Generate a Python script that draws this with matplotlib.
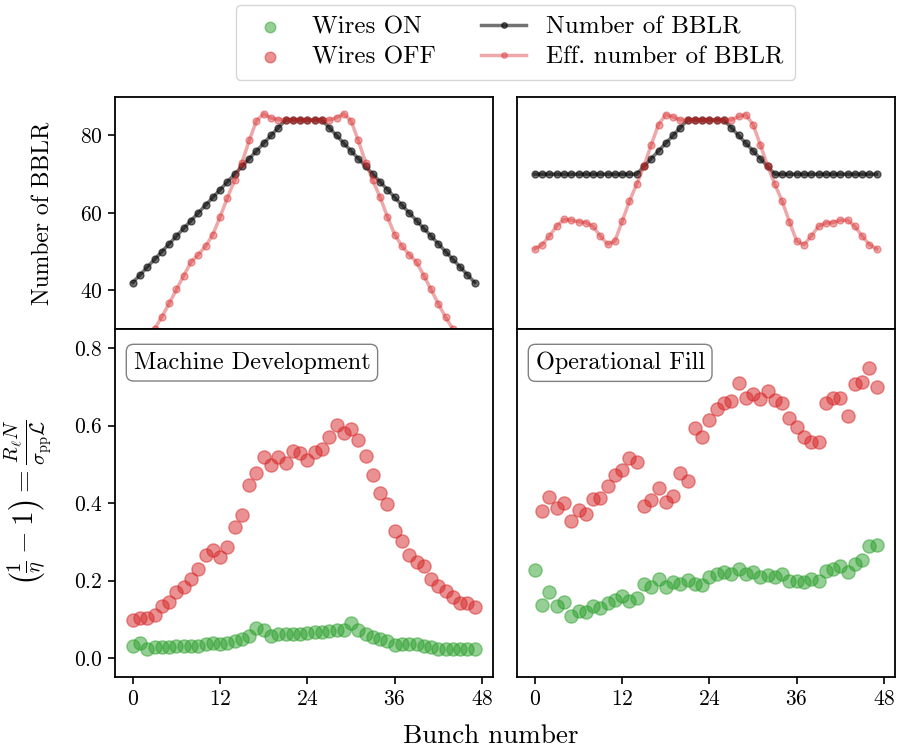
import numpy as np
import matplotlib
matplotlib.use("Agg")
import matplotlib.pyplot as plt

plt.rcParams["font.family"] = "serif"
plt.rcParams["font.serif"] = ["cmr10", "DejaVu Serif"]
plt.rcParams["mathtext.fontset"] = "cm"
plt.rcParams["axes.formatter.use_mathtext"] = True
plt.rcParams["axes.unicode_minus"] = False

bunches = np.arange(48)

# number of BBLR per bunch
n_bblr_md = [42, 44, 46, 48, 50, 52, 54, 56, 58, 60, 62, 64, 66, 68, 70, 72,
             74, 76, 78, 80, 82, 84, 84, 84, 84, 84, 84, 82, 80, 78, 76, 74,
             72, 70, 68, 66, 64, 62, 60, 58, 56, 54, 52, 50, 48, 46, 44, 42]
n_bblr_of = [70, 70, 70, 70, 70, 70, 70, 70, 70, 70, 70, 70, 70, 70, 70, 72,
             74, 76, 78, 80, 82, 84, 84, 84, 84, 84, 84, 82, 80, 78, 76, 74,
             72, 70, 70, 70, 70, 70, 70, 70, 70, 70, 70, 70, 70, 70, 70, 70]

# effective number of BBLR
eff_bblr_md = [20.0, 23.5, 27.0, 30.0, 33.2, 36.6, 40.2, 43.8, 47.3, 49.2, 51.4, 54.4,
               59.0, 63.9, 68.5, 73.0, 78.7, 83.8, 85.6, 84.5, 84.1, 84.0, 84.0, 84.0,
               84.0, 84.0, 84.0, 84.0, 84.6, 85.6, 83.8, 78.7, 73.0, 68.4, 64.0, 59.0,
               54.4, 51.4, 49.2, 47.3, 43.8, 40.2, 36.5, 33.0, 30.0, 27.0, 23.5, 20.0]
eff_bblr_of = [50.7, 51.8, 54.0, 56.6, 58.3, 58.1, 57.7, 57.5, 56.5, 54.0, 51.9, 52.7,
               57.8, 63.0, 67.4, 72.1, 77.6, 82.8, 85.4, 84.8, 84.0, 84.0, 84.0, 84.0,
               84.0, 84.0, 84.0, 84.0, 84.9, 85.4, 82.8, 77.6, 72.1, 67.4, 63.0, 57.7,
               52.7, 51.8, 54.0, 56.5, 57.4, 57.5, 58.1, 58.1, 56.5, 54.0, 51.8, 50.7]

# (1/eta - 1), machine development
md_on = [0.030, 0.039, 0.024, 0.028, 0.028, 0.028, 0.031, 0.030, 0.031, 0.031, 0.036, 0.038,
         0.036, 0.038, 0.044, 0.048, 0.056, 0.078, 0.073, 0.057, 0.061, 0.062, 0.062, 0.062,
         0.064, 0.066, 0.068, 0.070, 0.072, 0.072, 0.091, 0.073, 0.061, 0.054, 0.050, 0.044,
         0.034, 0.036, 0.035, 0.036, 0.031, 0.028, 0.024, 0.022, 0.022, 0.022, 0.024, 0.022]
md_off = [0.097, 0.102, 0.102, 0.112, 0.134, 0.145, 0.171, 0.182, 0.205, 0.229, 0.266, 0.278,
          0.261, 0.287, 0.339, 0.369, 0.447, 0.477, 0.518, 0.498, 0.518, 0.503, 0.535, 0.530,
          0.511, 0.533, 0.541, 0.571, 0.603, 0.580, 0.591, 0.563, 0.522, 0.472, 0.425, 0.397,
          0.328, 0.302, 0.266, 0.247, 0.238, 0.203, 0.185, 0.173, 0.158, 0.142, 0.142, 0.132]

# (1/eta - 1), operational fill
of_on = [0.227, 0.136, 0.171, 0.134, 0.145, 0.108, 0.121, 0.119, 0.134, 0.130, 0.141, 0.149,
         0.160, 0.147, 0.156, 0.192, 0.182, 0.203, 0.182, 0.197, 0.192, 0.201, 0.192, 0.188,
         0.210, 0.216, 0.221, 0.217, 0.231, 0.216, 0.221, 0.210, 0.214, 0.210, 0.218, 0.199,
         0.199, 0.197, 0.203, 0.199, 0.225, 0.231, 0.238, 0.222, 0.242, 0.253, 0.289, 0.291]
of_off = [np.nan, 0.379, 0.416, 0.388, 0.401, 0.354, 0.382, 0.373, 0.410, 0.414, 0.444, 0.472,
          0.485, 0.516, 0.507, 0.392, 0.408, 0.440, 0.402, 0.419, 0.477, 0.457, 0.593, 0.570,
          0.615, 0.643, 0.658, 0.664, 0.710, 0.671, 0.681, 0.668, 0.690, 0.666, 0.659, 0.619,
          0.597, 0.571, 0.559, 0.559, 0.659, 0.671, 0.671, 0.626, 0.708, 0.712, 0.748, 0.701]

fig = plt.figure(figsize=(9.03, 7.5), dpi=100)
gs = fig.add_gridspec(2, 2, left=0.127, right=0.991, top=0.871, bottom=0.097,
                      wspace=0.063, hspace=0.0, height_ratios=[2, 3])
ax_tl = fig.add_subplot(gs[0, 0])
ax_tr = fig.add_subplot(gs[0, 1], sharex=ax_tl, sharey=ax_tl)
ax_bl = fig.add_subplot(gs[1, 0], sharex=ax_tl)
ax_br = fig.add_subplot(gs[1, 1], sharex=ax_tl, sharey=ax_bl)

line_kw = dict(marker="o", markersize=5, linewidth=2.5)
for ax, nb, eff in [(ax_tl, n_bblr_md, eff_bblr_md), (ax_tr, n_bblr_of, eff_bblr_of)]:
    ax.plot(bunches, nb, color="k", alpha=0.55, label="Number of BBLR", **line_kw)
    ax.plot(bunches, eff, color="tab:red", alpha=0.4, label="Eff. number of BBLR", **line_kw)

sc_kw = dict(s=90, alpha=0.5, linewidths=1.0)
for ax, on, off, name in [(ax_bl, md_on, md_off, "Machine Development"),
                          (ax_br, of_on, of_off, "Operational Fill")]:
    ax.scatter(bunches, on, color="tab:green", edgecolors="tab:green", label="Wires ON", **sc_kw)
    ax.scatter(bunches, off, color="tab:red", edgecolors="tab:red", label="Wires OFF", **sc_kw)
    ax.text(0.05, 0.935, name, transform=ax.transAxes, fontsize=17.5, va="top", ha="left",
            bbox=dict(boxstyle="round,pad=0.3", facecolor="white", edgecolor="gray"))

ax_tl.set_ylim(30, 90)
ax_tl.set_yticks([40, 60, 80])
ax_bl.set_ylim(-0.05, 0.85)
ax_bl.set_yticks([0.0, 0.2, 0.4, 0.6, 0.8])
ax_tl.set_xlim(-2.5, 49.5)
ax_bl.set_xticks([0, 12, 24, 36, 48])

for ax in [ax_tl, ax_tr, ax_bl, ax_br]:
    ax.tick_params(labelsize=15.5, width=1.2, length=5)
    for sp in ax.spines.values():
        sp.set_linewidth(1.3)
for ax in [ax_tl, ax_tr]:
    ax.tick_params(axis="x", bottom=False, labelbottom=False)
for ax in [ax_tr, ax_br]:
    ax.tick_params(axis="y", left=False, labelleft=False)

ax_tl.set_ylabel("Number of BBLR", fontsize=17)
ax_bl.set_ylabel(r"$\left(\frac{1}{\eta}-1\right)=\frac{R_\ell N}{\sigma_{\rm pp}\mathcal{L}}$",
                 fontsize=21)
ax_tl.yaxis.set_label_coords(-0.16, 0.5)
ax_bl.yaxis.set_label_coords(-0.16, 0.5)
fig.text(0.544, 0.003, "Bunch number", fontsize=19.5, ha="center", va="bottom")

h_sc, l_sc = ax_bl.get_legend_handles_labels()
h_ln, l_ln = ax_tl.get_legend_handles_labels()
fig.legend(h_sc + h_ln, l_sc + l_ln, loc="upper center", bbox_to_anchor=(0.571, 1.0),
           ncol=2, fontsize=18, frameon=True, columnspacing=1.8, handlelength=1.8,
           borderpad=0.45, labelspacing=0.3, markerscale=0.8, borderaxespad=0.2)

fig.savefig("out.png", dpi=100)
